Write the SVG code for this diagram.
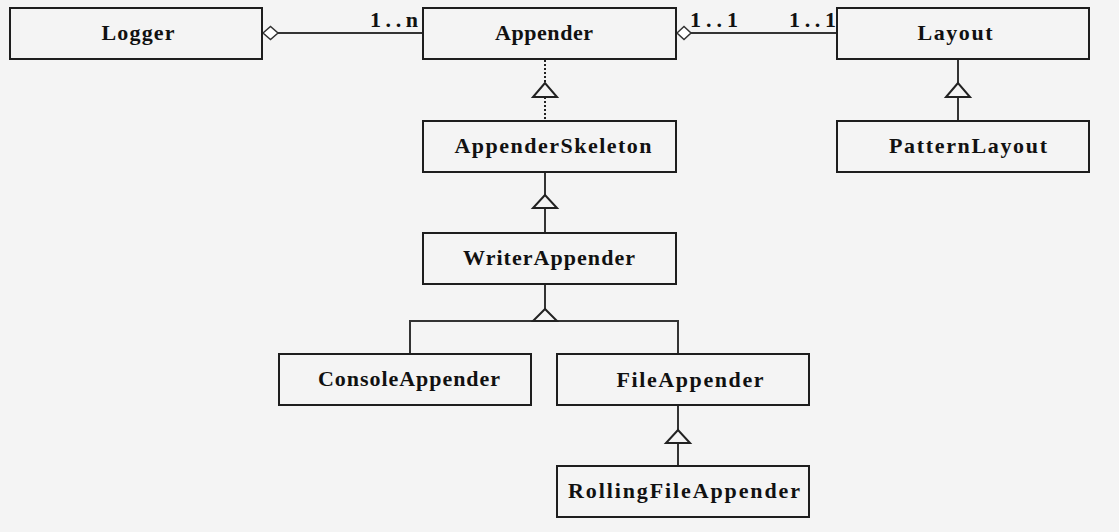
<svg xmlns="http://www.w3.org/2000/svg" width="1119" height="532" viewBox="0 0 1119 532">
<defs>
<style>
.bg{fill:#f4f4f4}
.box{fill:#f4f4f4;stroke:#1e1e1e;stroke-width:2}
.lbl{font-family:"Liberation Serif","Times New Roman",serif;font-weight:bold;font-size:22px;fill:#111;text-anchor:middle}
.mult{font-family:"Liberation Serif","Times New Roman",serif;font-weight:bold;font-size:22px;fill:#111}
.ln{fill:none;stroke:#333;stroke-width:2}
.dot{fill:none;stroke:#222;stroke-width:2;stroke-dasharray:2 2}
.tri{fill:#f4f4f4;stroke:#222;stroke-width:2}
.dia{fill:#fff;stroke:#333;stroke-width:1.5}
</style>
</defs>
<rect class="bg" x="0" y="0" width="1119" height="532"/>
<g id="connectors">
<line class="ln" x1="278" y1="33" x2="423" y2="33"/>
<polygon class="dia" points="263,33 270.5,26.5 278,33 270.5,39.5"/>
<text class="mult" x="370" y="27" textLength="48" lengthAdjust="spacing">1..n</text>
<line class="ln" x1="691" y1="33" x2="837" y2="33"/>
<polygon class="dia" points="677,33 684,26.5 691,33 684,39.5"/>
<text class="mult" x="690" y="27" textLength="48" lengthAdjust="spacing">1..1</text>
<text class="mult" x="789" y="27" textLength="47" lengthAdjust="spacing">1..1</text>
<line class="dot" x1="545" y1="60" x2="545" y2="83"/>
<line class="dot" x1="545" y1="97" x2="545" y2="121"/>
<polygon class="tri" points="545,83 533,97 557,97"/>
<line class="ln" x1="958" y1="59" x2="958" y2="83"/>
<line class="ln" x1="958" y1="97" x2="958" y2="121"/>
<polygon class="tri" points="958,83 946,97 970,97"/>
<line class="ln" x1="545" y1="172" x2="545" y2="195"/>
<line class="ln" x1="545" y1="208" x2="545" y2="233"/>
<polygon class="tri" points="545,195 533,208 557,208"/>
<line class="ln" x1="545" y1="284" x2="545" y2="309"/>
<polyline class="ln" points="410,354 410,321 678,321 678,354"/>
<polygon class="tri" points="545,309 533,321 557,321"/>
<line class="ln" x1="678" y1="405" x2="678" y2="430"/>
<line class="ln" x1="678" y1="443" x2="678" y2="466"/>
<polygon class="tri" points="678,430 666,443 690,443"/>
</g>
<g id="Logger"><rect class="box" x="10" y="8" width="252" height="51"/><text class="lbl" x="138" y="40" textLength="73" lengthAdjust="spacing">Logger</text></g>
<g id="Appender"><rect class="box" x="423" y="8" width="253" height="51"/><text class="lbl" x="544" y="40" textLength="98" lengthAdjust="spacing">Appender</text></g>
<g id="Layout"><rect class="box" x="837" y="8" width="252" height="51"/><text class="lbl" x="955" y="40" textLength="75" lengthAdjust="spacing">Layout</text></g>
<g id="AppenderSkeleton"><rect class="box" x="423" y="121" width="253" height="51"/><text class="lbl" x="553" y="153" textLength="197" lengthAdjust="spacing">AppenderSkeleton</text></g>
<g id="PatternLayout"><rect class="box" x="837" y="121" width="252" height="51"/><text class="lbl" x="968" y="153" textLength="158" lengthAdjust="spacing">PatternLayout</text></g>
<g id="WriterAppender"><rect class="box" x="423" y="233" width="253" height="51"/><text class="lbl" x="549" y="265" textLength="172" lengthAdjust="spacing">WriterAppender</text></g>
<g id="ConsoleAppender"><rect class="box" x="279" y="354" width="252" height="51"/><text class="lbl" x="409" y="386" textLength="182" lengthAdjust="spacing">ConsoleAppender</text></g>
<g id="FileAppender"><rect class="box" x="557" y="354" width="252" height="51"/><text class="lbl" x="690" y="387" textLength="147" lengthAdjust="spacing">FileAppender</text></g>
<g id="RollingFileAppender"><rect class="box" x="557" y="466" width="252" height="51"/><text class="lbl" x="684" y="498" textLength="232" lengthAdjust="spacing">RollingFileAppender</text></g>
</svg>
